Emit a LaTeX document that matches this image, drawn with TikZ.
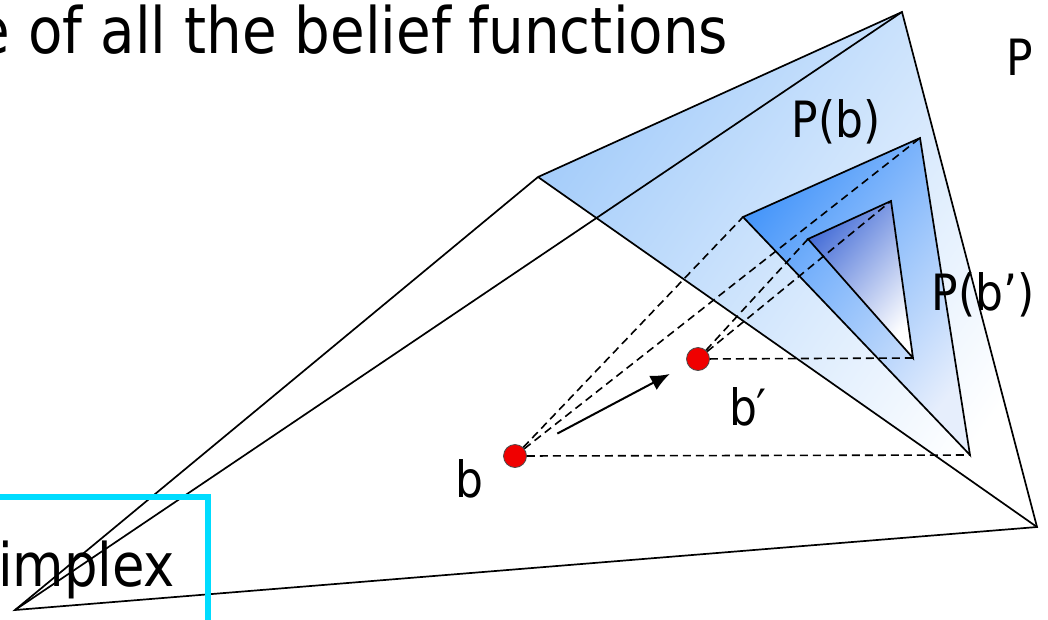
\documentclass[tikz,border=0pt]{standalone}
\usepackage{fontspec}
\setmainfont{DejaVu Sans}[FakeStretch=0.88]
\usetikzlibrary{arrows.meta,positioning}
\definecolor{simplexblue}{RGB}{165,205,250}
\definecolor{pbblue}{RGB}{70,150,250}
\definecolor{pbmid}{RGB}{170,205,250}
\definecolor{pblight}{RGB}{230,238,252}
\definecolor{pbpblue}{RGB}{70,110,215}
\definecolor{boxcyan}{RGB}{0,220,255}
\definecolor{dotred}{RGB}{240,0,0}

\begin{document}
\begin{tikzpicture}[x=1pt, y=-1pt, line width=1.7pt,
  proj/.style={line width=1.6pt, dash pattern=on 8pt off 5pt},
  belief/.style={circle, fill=dotred, draw=black!70, line width=0.8pt, minimum size=23pt, inner sep=0pt},
  lbl/.style={inner sep=0pt, font=\fontsize{50}{56}\selectfont},
  big/.style={inner sep=0pt, font=\fontsize{64}{70}\selectfont}]
\useasboundingbox (0,0) rectangle (1048,619);

% belief space and probability simplex
\coordinate (O) at (15,610);
\coordinate (A) at (538,177);
\coordinate (T) at (902,12);
\coordinate (R) at (1037,527);
% P(b)
\coordinate (b1) at (743,217);
\coordinate (b2) at (920,138);
\coordinate (b3) at (970,455);
% P(b')
\coordinate (c1) at (808,239);
\coordinate (c2) at (891,201);
\coordinate (c3) at (913,358);

\shade[top color=simplexblue, bottom color=white, shading angle=55] (A) -- (T) -- (R) -- cycle;
\shade[top color=pbblue, middle color=pbmid, bottom color=pblight, shading angle=52] (b1) -- (b2) -- (b3) -- cycle;
\shade[top color=pbpblue, bottom color=white, shading angle=50] (c1) -- (c2) -- (c3) -- cycle;

\draw (O) -- (A) -- (T) -- (R) -- cycle;
\draw (O) -- (T);
\draw (A) -- (R);
\draw (b1) -- (b2) -- (b3) -- cycle;
\draw (c1) -- (c2) -- (c3) -- cycle;

\node[belief] (b) at (515,456) {};
\node[belief] (bp) at (698,359) {};

\draw[proj] (b) -- (b1);
\draw[proj] (b) -- (b2);
\draw[proj] (b) -- (b3);
\draw[proj] (bp) -- (c1);
\draw[proj] (bp) -- (c2);
\draw[proj] (bp) -- (c3);
\draw[line width=2pt, -{Latex[length=19pt,width=16pt]}, shorten <=36pt, shorten >=20pt] (b) -- (bp);

\node[lbl, anchor=base] (lb) at (469,497) {b};
\node[lbl, anchor=base] (lbp) at (748,425) {b′};
\node[lbl, anchor=base] (lpb) at (836,137) {P(b)};
\node[lbl, anchor=base] (lpbp) at (983,310) {P(b’)};
\node[lbl, anchor=base] (lp) at (1020,75) {P};

\node[big, anchor=base east] (title) at (729,53) {e of all the belief functions};
\node[big, anchor=base east, font=\fontsize{60}{66}\selectfont] (simp) at (176,586) {implex};
\coordinate (boxl) at (-10,497);
\coordinate (boxc) at (208,497);
\coordinate (boxb) at (208,630);
\draw[boxcyan, line width=6pt] (boxl) -- (boxc) -- (boxb);
\end{tikzpicture}
\end{document}
